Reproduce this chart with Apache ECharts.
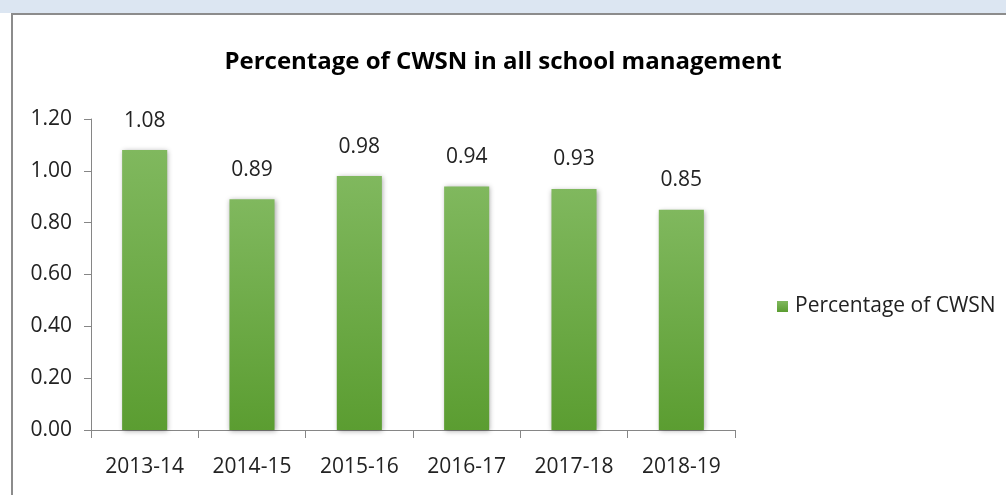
<!DOCTYPE html>
<html>
<head>
<meta charset="utf-8">
<script src="https://cdn.jsdelivr.net/npm/echarts@6/dist/echarts.min.js"></script>
<style>
  html, body { margin: 0; padding: 0; background: #fff; }
  #main { width: 1006px; height: 495px; }
</style>
</head>
<body>
<div id="main"></div>
<script>
var years = ['2013-14', '2014-15', '2015-16', '2016-17', '2017-18', '2018-19'];
var cwsn = [1.08, 0.89, 0.98, 0.94, 0.93, 0.85];
var seriesName = 'Percentage of CWSN';

var dom = document.getElementById('main');
var myChart = echarts.init(dom);
var fontFam = '"Open Sans", "Noto Sans", sans-serif';
var option = {
  backgroundColor: '#fff',
  animation: false,
  graphic: [
    { type: 'rect', shape: { x: 0, y: 0, width: 1006, height: 13 }, style: { fill: '#dce6f2' }, z: 100 },
    { type: 'rect', shape: { x: 12, y: 14, width: 1010, height: 500 }, style: { fill: 'none', stroke: '#8c8c8c', lineWidth: 2 }, z: 100 }
  ],
  title: {
    text: 'Percentage of CWSN in all school management',
    left: 'center',
    top: 45,
    textStyle: { fontFamily: fontFam, fontSize: 24, fontWeight: 'bold', color: '#000' }
  },
  legend: {
    orient: 'vertical',
    left: 772,
    top: 291,
    itemWidth: 11,
    itemHeight: 11,
    icon: 'rect',
    itemGap: 6,
    textStyle: { fontFamily: fontFam, fontSize: 21, color: '#222', padding: [0, 0, 0, 2] },
    data: [seriesName]
  },
  grid: { left: 91, right: 271, top: 119, bottom: 65 },
  xAxis: {
    type: 'category',
    data: years,
    axisLine: { lineStyle: { color: '#868686' } },
    axisTick: { show: true, length: 8, lineStyle: { color: '#868686' } },
    axisLabel: { fontFamily: fontFam, fontSize: 21, color: '#222', margin: 27 }
  },
  yAxis: {
    type: 'value',
    min: 0,
    max: 1.2,
    interval: 0.2,
    axisLine: { show: true, lineStyle: { color: '#868686' } },
    axisTick: { show: true, length: 7, lineStyle: { color: '#868686' } },
    splitLine: { show: false },
    axisLabel: {
      fontFamily: fontFam, fontSize: 21, color: '#222', margin: 19,
      formatter: function (v) { return v.toFixed(2); }
    }
  },
  series: [{
    name: seriesName,
    type: 'bar',
    data: cwsn,
    barWidth: '42%',
    itemStyle: {
      color: new echarts.graphic.LinearGradient(0, 0, 0, 1, [
        { offset: 0, color: '#80b85e' },
        { offset: 1, color: '#5b9d31' }
      ]),
      shadowColor: 'rgba(0,0,0,0.35)',
      shadowBlur: 5,
      shadowOffsetX: 1,
      shadowOffsetY: 1
    },
    label: {
      show: true,
      position: 'top',
      distance: 19,
      fontFamily: fontFam,
      fontSize: 21,
      color: '#222',
      formatter: function (p) { return p.value.toFixed(2); }
    }
  }]
};
myChart.setOption(option, true);
</script>
</body>
</html>
